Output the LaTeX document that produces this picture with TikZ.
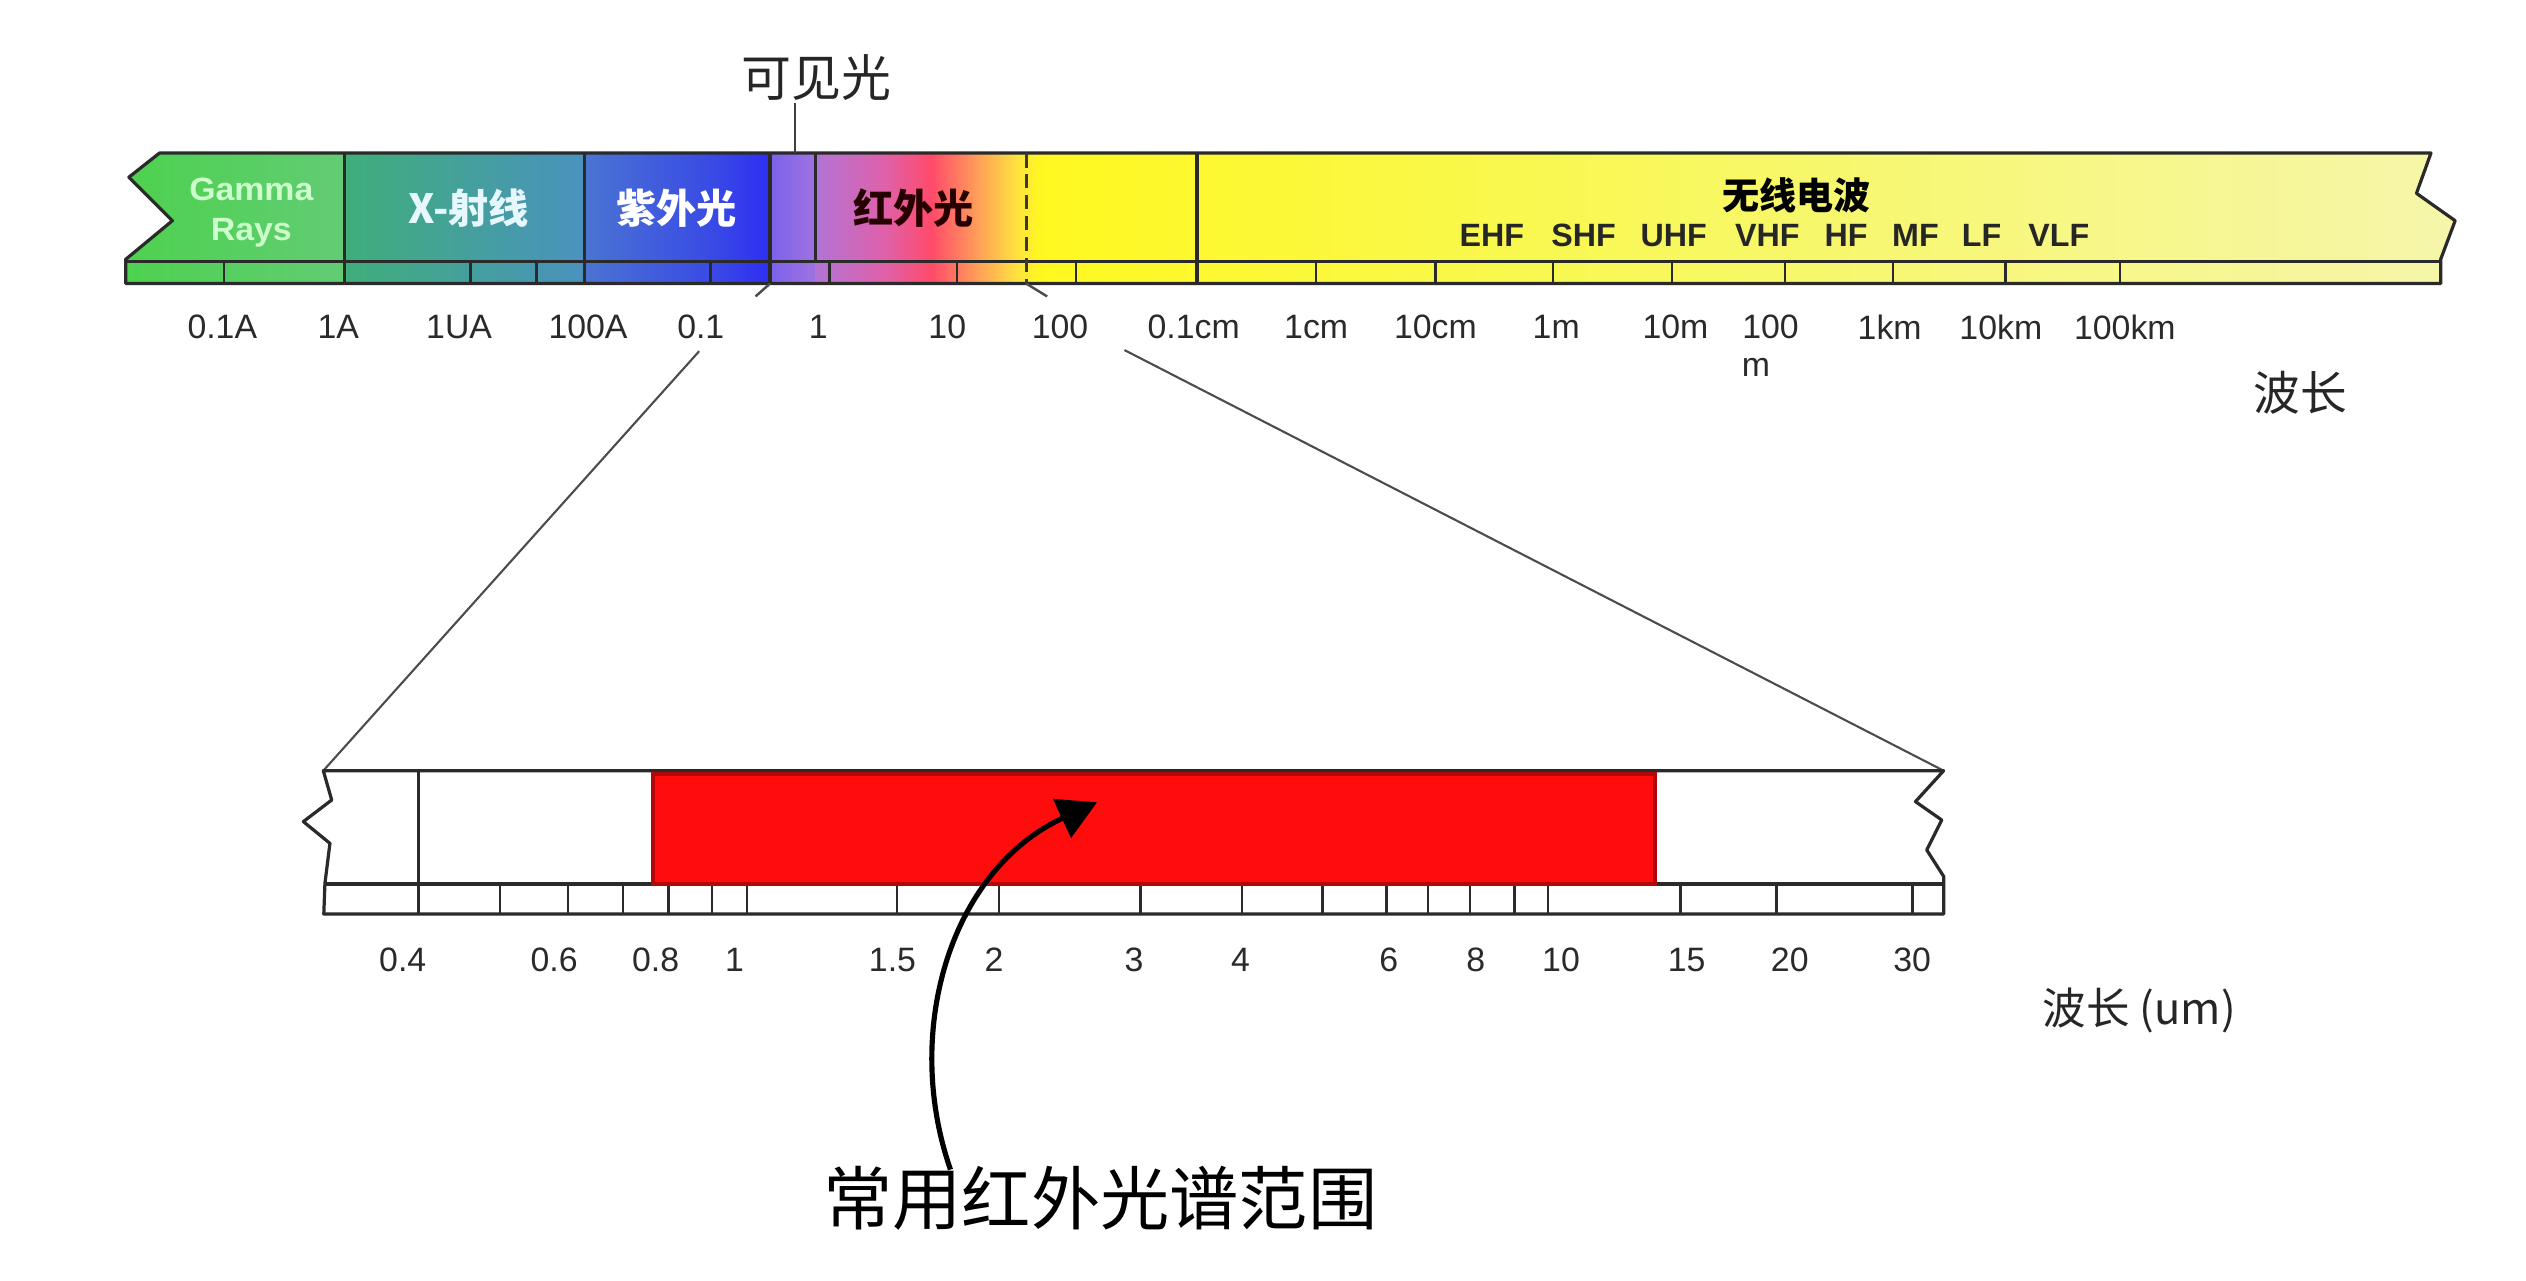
\documentclass[tikz,border=0pt]{standalone}
\usepackage{fontspec}
\setmainfont{Liberation Sans}
\newfontfamily\cjk{Noto Sans CJK SC}
\usetikzlibrary{arrows.meta}
\definecolor{gA}{HTML}{4CD24C}
\definecolor{gB}{HTML}{62CC74}
\definecolor{xA}{HTML}{3FAE7A}
\definecolor{xB}{HTML}{4A92BE}
\definecolor{uA}{HTML}{4A74D2}
\definecolor{uB}{HTML}{3848E6}
\definecolor{uC}{HTML}{2E2EF2}
\definecolor{vA}{HTML}{7A62EA}
\definecolor{vB}{HTML}{A072E0}
\definecolor{rA}{HTML}{B274D6}
\definecolor{rB}{HTML}{E060A8}
\definecolor{rC}{HTML}{FF4A6A}
\definecolor{rD}{HTML}{FF9A5A}
\definecolor{rE}{HTML}{FFE040}
\definecolor{yA}{HTML}{FFF820}
\definecolor{yB}{HTML}{F8F850}
\definecolor{yC}{HTML}{F6F6AC}
\definecolor{redfill}{HTML}{FF0C0C}
\definecolor{redline}{HTML}{B40808}
\definecolor{ink}{HTML}{2A2A2A}
\begin{document}
\begin{tikzpicture}[x=1pt,y=-1pt,
  num/.style={font=\fontsize{21}{21}\selectfont, text=ink, inner sep=0pt, anchor=center},
  band/.style={font=\fontsize{20}{20}\selectfont\bfseries, text=black!85, inner sep=0pt},
  barline/.style={draw=ink, line width=2pt},
  tickline/.style={draw=ink, line width=1.6pt},
  zoomline/.style={draw=black!70, line width=1.3pt},
  cjklabel/.style={font=\cjk\fontsize{#1}{#1}\selectfont, inner sep=0pt},
  cjkbold/.style={font=\cjk\bfseries\fontsize{#1}{#1}\selectfont, inner sep=0pt}]
\useasboundingbox (0,0) rectangle (1568,795);
\fill[white] (0,0) rectangle (1568,795);

% ---------- top spectrum bar ----------
\begin{scope}
\path[clip] (99,95) -- (1509,95) -- (1500,120) -- (1524,137) -- (1515,161) -- (1515,176)
  -- (78,176) -- (78,161) -- (107,137) -- (80,110) -- cycle;
\shade[left color=gA, right color=gB] (70,90) rectangle (214.5,180);
\shade[left color=xA, right color=xB] (214,90) rectangle (363.5,180);
\shade[left color=uA, right color=uB] (363,90) rectangle (445.5,180);
\shade[left color=uB, right color=uC] (445,90) rectangle (478.5,180);
\shade[left color=vA, right color=vB] (478,90) rectangle (506.5,180);
\shade[left color=rA, right color=rB] (506,90) rectangle (550.5,180);
\shade[left color=rB, right color=rC] (550,90) rectangle (578.5,180);
\shade[left color=rC, right color=rD] (578,90) rectangle (605.5,180);
\shade[left color=rD, right color=rE] (605,90) rectangle (630.5,180);
\shade[left color=rE, right color=yA] (630,90) rectangle (645.5,180);
\shade[left color=yA, right color=yB] (645,90) rectangle (950.5,180);
\shade[left color=yB, right color=yC] (950,90) rectangle (1530,180);
\end{scope}
\draw[barline, line join=round] (99,95) -- (1509,95) -- (1500,120) -- (1524,137) -- (1515,161) -- (1515,176)
  -- (78,176) -- (78,161) -- (107,137) -- (80,110) -- cycle;
\draw[barline] (78,162.5) -- (1515,162.5);
\foreach \x in {214,363,478,743} \draw[barline] (\x,95) -- (\x,176);
\draw[barline] (506,95) -- (506,162.5);
\draw[draw=black!75!olive, line width=2pt, dash pattern=on 9pt off 4pt] (637,95) -- (637,176);
\foreach \x in {139,292,333,441,515,594,668,817,891,964,1038,1108,1175,1245,1316}
  \draw[tickline] (\x,162.5) -- (\x,176);
\draw[draw=black!70, line width=1.5pt] (478,176) -- (469,184);
\draw[draw=black!70, line width=1.5pt] (637,176) -- (650,184);

% visible-light pointer
\node[cjklabel=31, text=black!85] (vis) at (507,48) {可见光};
\coordinate (visfoot) at (493.5,95);
\draw[draw=black!75, line width=1.5pt] (493.5,64) -- (visfoot);

% band names
\node[font=\fontsize{20}{25}\selectfont\bfseries, text=green!20!white, align=center, inner sep=0pt, xscale=1.05] (gam) at (156,132) {Gamma\\Rays};
\node[cjkbold=25, text=white!90!cyan] (xr) at (291,129) {X-射线};
\node[cjkbold=25, text=white] (uv) at (420,129) {紫外光};
\node[cjkbold=25, text=black!85!red] (ir) at (567,129) {红外光};
\node[cjkbold=23, text=black] (radio) at (1115,121) {无线电波};
\node[band] (b1) at (926,146) {EHF};
\node[band] (b2) at (983,146) {SHF};
\node[band] (b3) at (1039,146) {UHF};
\node[band] (b4) at (1097,146) {VHF};
\node[band] (b5) at (1146,146) {HF};
\node[band] (b6) at (1189,146) {MF};
\node[band] (b7) at (1230,146) {LF};
\node[band] (b8) at (1278,146) {VLF};

% wavelength labels (top)
\node[num] (t1) at (138,203) {0.1A};
\node[num] (t2) at (210,203) {1A};
\node[num] (t3) at (285,203) {1UA};
\node[num] (t4) at (365,203) {100A};
\node[num] (t5) at (435,203) {0.1};
\node[num] (t6) at (508,203) {1};
\node[num] (t7) at (588,203) {10};
\node[num] (t8) at (658,203) {100};
\node[num] (t9) at (741,203) {0.1cm};
\node[num] (t10) at (817,203) {1cm};
\node[num] (t11) at (891,203) {10cm};
\node[num] (t12) at (966,203) {1m};
\node[num] (t13) at (1040,203) {10m};
\node[num] (t14) at (1099,203) {100};
\node[num] (t14b) at (1090,228) {m};
\node[num] (t15) at (1173,203) {1km};
\node[num] (t16) at (1242,203) {10km};
\node[num] (t17) at (1319,203) {100km};
\node[cjklabel=29, text=black!85] (wl1) at (1428,244) {波长};

% ---------- zoomed bar ----------
\coordinate (zl) at (200.7,478.4);
\coordinate (zr) at (1206.5,478.4);
\coordinate (zrs) at (698,217.3);
\draw[zoomline] (434,218) -- (zl);
\draw[zoomline] (zrs) -- (zr);

\draw[barline, line join=round] (200.7,478.4) -- (1206.5,478.4) -- (1189,497.6) -- (1205.3,509) -- (1196,527.6)
  -- (1206.5,544) -- (1206.5,567.4) -- (201,567.4) -- (201.7,548.3) -- (204.8,523.5) -- (188.3,510)
  -- (205.9,496.6) -- cycle;
\draw[barline] (201,548.7) -- (1206.5,548.7);
\draw[barline] (260,478.4) -- (260,567.4);
\foreach \x in {310.4,352.6,386.7,415,442,463.6,556.8,620,708,771,821,860.5,886.5,912.6,940,961,1043,1102.8,1187}
  \draw[tickline] (\x,548.7) -- (\x,567.4);
\node[fill=redfill, draw=redline, line width=2.5pt, minimum width=622pt, minimum height=68pt, inner sep=0pt, anchor=north west] (irband) at (404,479.5) {};

% zoom labels (bottom)
\node[num] (s1) at (250,596) {0.4};
\node[num] (s2) at (344,596) {0.6};
\node[num] (s3) at (407,596) {0.8};
\node[num] (s4) at (456,596) {1};
\node[num] (s5) at (554,596) {1.5};
\node[num] (s6) at (617,596) {2};
\node[num] (s7) at (704,596) {3};
\node[num] (s8) at (770,596) {4};
\node[num] (s9) at (862,596) {6};
\node[num] (s10) at (916,596) {8};
\node[num] (s11) at (969,596) {10};
\node[num] (s12) at (1047,596) {15};
\node[num] (s13) at (1111,596) {20};
\node[num] (s14) at (1187,596) {30};
\node[cjklabel=27, text=black!85] (wl2) at (1328,627) {波长 (um)};

% caption and arrow
\node[cjklabel=43, text=black] (cap) at (683,744) {常用红外光谱范围};
\coordinate (arrS) at (590,726);
\coordinate (arrE) at (681,498);
\draw[line width=3.2pt, black, -{Triangle[length=24pt,width=26pt]}] (arrS) .. controls (560,640) and (590,540) .. (arrE);
\end{tikzpicture}
\end{document}
